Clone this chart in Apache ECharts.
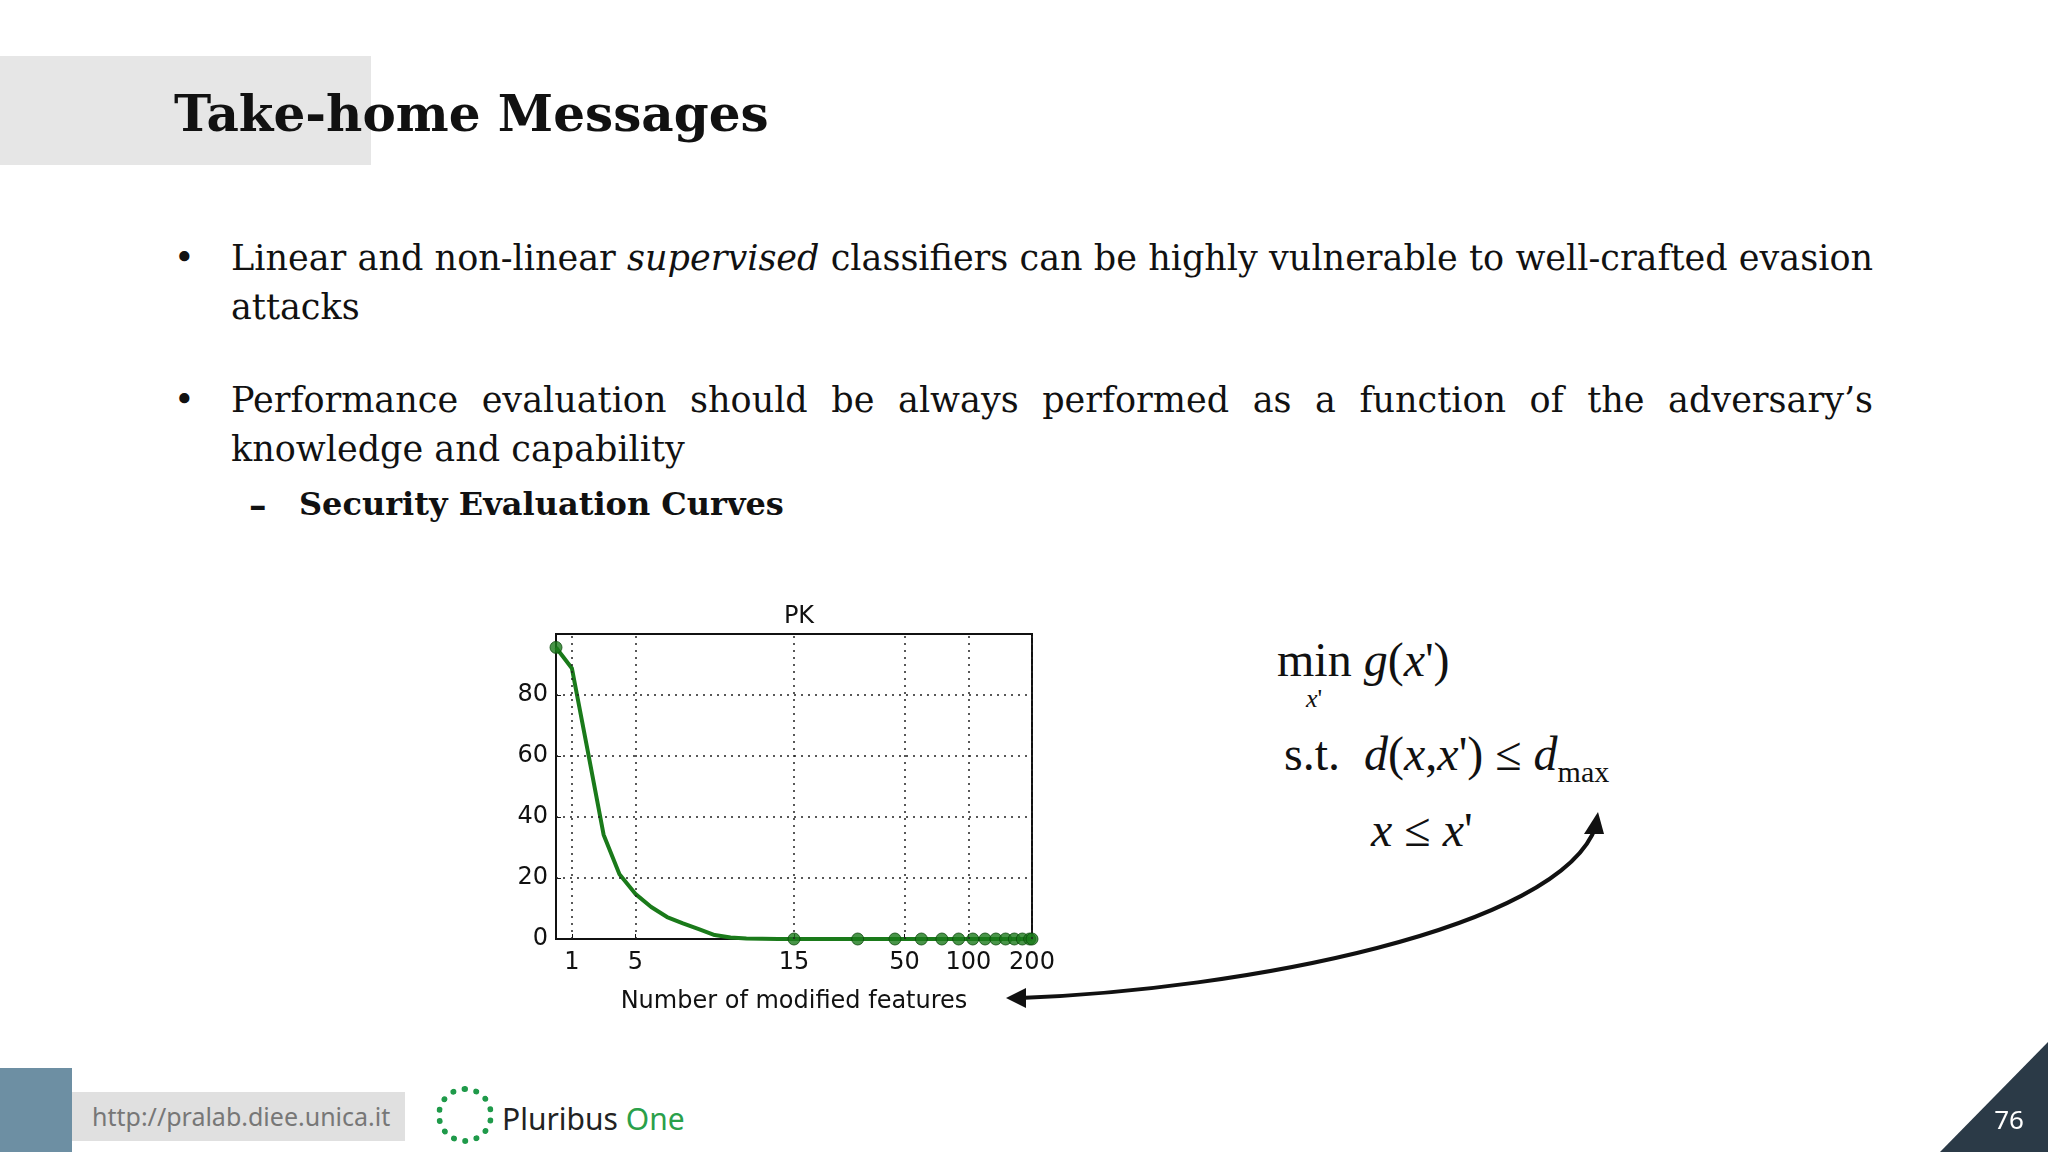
<!DOCTYPE html>
<html><head><meta charset="utf-8">
<script src="https://cdn.jsdelivr.net/npm/echarts@6/dist/echarts.min.js"></script>
<style>
body{margin:0;width:2048px;height:1152px;background:#fff;overflow:hidden;position:relative;font-family:"DejaVu Serif",serif;color:#111}
#chart{position:absolute;left:0;top:0;width:2048px;height:1152px}
.t{position:absolute;white-space:nowrap}
.b{position:absolute;font-size:35px;line-height:49px}
.m{position:absolute;font-family:"Liberation Serif",serif;font-size:48px;white-space:nowrap}
</style></head><body>
<div style="position:absolute;left:0;top:56px;width:371px;height:109px;background:#e6e6e6"></div>
<div class="t" style="left:174px;top:84px;font-size:50px;font-weight:bold">Take-home Messages</div>
<div class="b" style="left:174px;top:234px">•</div>
<div class="b" style="left:231px;top:234px;width:1642px;text-align:justify">Linear and non-linear <i>supervised</i> classifiers can be highly vulnerable to well-crafted evasion attacks</div>
<div class="b" style="left:174px;top:376px">•</div>
<div class="b" style="left:231px;top:376px;width:1642px;text-align:justify">Performance evaluation should be always performed as a function of the adversary’s knowledge and capability</div>
<div class="b" style="left:249px;top:480px;font-weight:bold">–</div>
<div class="b" style="left:299px;top:480px;font-weight:bold;font-size:32px">Security Evaluation Curves</div>
<div class="m" style="left:1277px;top:632px">min <i>g</i>(<i>x</i>')</div>
<div class="m" style="left:1306px;top:684px;font-size:26px"><i>x</i>'</div>
<div class="m" style="left:1284px;top:726px">s.t.&nbsp; <i>d</i>(<i>x</i>,<i>x</i>') ≤ <i>d</i><span style="font-size:30px;vertical-align:-12px">max</span></div>
<div class="m" style="left:1371px;top:802px"><i>x</i> ≤ <i>x</i>'</div>
<div style="position:absolute;left:0;top:1068px;width:72px;height:84px;background:#6d8fa3"></div>
<div style="position:absolute;left:72px;top:1092px;width:333px;height:49px;background:#e0e0e0;color:#777;font:25px 'Noto Sans',sans-serif;line-height:49px;padding-left:20px;box-sizing:border-box">http://pralab.diee.unica.it</div>
<div style="position:absolute;left:436px;top:1086px;width:58px;height:58px;border-radius:50%;border:6px dotted #1f9a4a;box-sizing:border-box"></div>
<div class="t" style="left:502px;top:1098px;font:30px 'Noto Sans',sans-serif;color:#222">Pluribus <span style="color:#2aa04a">One</span></div>
<div id="chart"></div>
<script>
// x is piecewise: linear up to 15, log from 15 to 200
var nFeatures = [0,1,2,3,4,5,6,7,8,9,10,11,12,13,14,15,30,45,60,75,90,105,120,135,150,165,180,195,200];
var detection = [95.6,88.8,61.7,34.2,21.2,14.8,10.5,7.2,5.1,3.2,1.3,0.5,0.2,0.1,0,0,0,0,0,0,0,0,0,0,0,0,0,0,0];
var markerN = [0,15,30,45,60,75,90,105,120,135,150,165,180,195,200];
var xTicks = [1,5,15,50,100,200];
var yTicks = [20,40,60,80];

function tx(n){ return n <= 15 ? n : 15 + 15*Math.log(n/15)/Math.log(200/15); }

var lineData = nFeatures.map(function(n,i){ return [tx(n), detection[i]]; });
var markData = markerN.map(function(n){ return [tx(n), detection[nFeatures.indexOf(n)]]; });
var labelMap = {};
xTicks.forEach(function(v){ labelMap[tx(v).toFixed(4)] = v; });
var dotted = {color:'#222', type:[2,5], width:1.5};
var gridLines = xTicks.map(function(v){ return {xAxis: tx(v)}; }).concat(yTicks.map(function(v){ return {yAxis: v}; }));
var axisFont = {fontFamily:'DejaVu Sans', fontSize:24, color:'#111'};

var chart = echarts.init(document.getElementById('chart'));
var W = 2048;
var option = {
    animation: false,
    title: {text:'PK', left: 794, top: 600, textAlign:'center',
        textStyle:{fontFamily:'DejaVu Sans', fontWeight:'normal', fontSize:24, color:'#111'}},
    grid: {left:556, top:634, width:476, height:305, show:true, borderColor:'#111', borderWidth:2},
    xAxis: {type:'value', min:0, max:30, splitLine:{show:false},
        axisLine:{lineStyle:{color:'#111', width:2}},
        axisTick:{inside:true, length:5, customValues: xTicks.map(tx), lineStyle:{color:'#111'}},
        axisLabel:Object.assign({customValues: xTicks.map(tx), margin:12,
            formatter:function(v){ return labelMap[v.toFixed(4)]; }}, axisFont),
        name:'Number of modified features', nameLocation:'middle', nameGap:51,
        nameTextStyle:axisFont},
    yAxis: {type:'value', min:0, max:100, interval:20, splitLine:{show:false},
        axisLine:{lineStyle:{color:'#111', width:2}},
        axisTick:{inside:true, length:5, lineStyle:{color:'#111'}},
        axisLabel:Object.assign({margin:8, formatter:function(v){ return v === 100 ? '' : v; }}, axisFont)},
    series: [{
        type:'line', data: lineData, showSymbol:false, z:3,
        lineStyle:{color:'#1a7a1a', width:4},
        markLine:{silent:true, symbol:'none', label:{show:false}, lineStyle:dotted, data: gridLines}
    },{
        type:'scatter', data: markData, symbolSize:12, z:4,
        itemStyle:{color:'#1a7a1a', borderColor:'#0d4a0d', borderWidth:1}
    }],
    graphic: [
        {type:'bezierCurve', shape:{x1:1596, y1:826, cpx1:1560, cpy1:930, cpx2:1240, cpy2:990, x2:1020, y2:998},
         style:{stroke:'#111', lineWidth:4, fill:null}},
        {type:'polygon', shape:{points:[[1598,812],[1584,834],[1604,834]]}, style:{fill:'#111'}},
        {type:'polygon', shape:{points:[[1006,998],[1026,988],[1026,1008]]}, style:{fill:'#111'}},
        {type:'polygon', shape:{points:[[1940,1152],[W,1152],[W,1042]]}, style:{fill:'#2b3a47'}},
        {type:'text', style:{x:2009, y:1122, text:'76', fill:'#fff', font:'26px "Noto Sans"', align:'center', verticalAlign:'middle'}}
    ]
};
chart.setOption(option);
</script>
</body></html>
